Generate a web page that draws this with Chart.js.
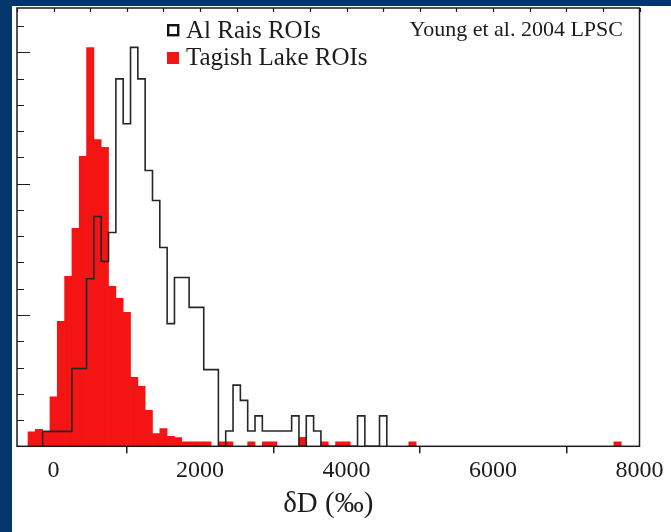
<!DOCTYPE html>
<html>
<head>
<meta charset="utf-8">
<script src="https://cdn.jsdelivr.net/npm/chart.js@4.4.1/dist/chart.umd.min.js"></script>
<style>
  html, body { margin: 0; padding: 0; background: #fff; }
  #wrap { position: relative; width: 671px; height: 532px; background: #fff; overflow: hidden; }
  .band-left { position: absolute; left: 0; top: 0; width: 12px; height: 532px; background: #04366b; }
  .band-top { position: absolute; left: 0; top: 0; width: 671px; height: 6px; background: #04366b; }
  canvas { position: absolute; left: 0; top: 0; }
</style>
</head>
<body>
<div id="wrap">
  <div class="band-left"></div>
  <div class="band-top"></div>
  <canvas id="c" width="671" height="532"></canvas>
</div>
<script>
// δD histograms, 100 ‰ bins labelled by their centre; heights are frequency (%)
const binWidth = 100;

const tagishBins = [-300, -200, -100, 0, 100, 200, 300, 400, 500, 600, 700, 800, 900, 1000,
  1100, 1200, 1300, 1400, 1500, 1600, 1700, 1800, 1900, 2000, 2100, 2300, 2400, 2700,
  2900, 3000, 3400, 3700, 3900, 4000, 4900, 7700];
const tagishFreq = [0.55, 0.65, 0.55, 1.88, 4.76, 6.47, 8.30, 11.04, 15.18, 11.68, 11.38, 6.09, 5.63, 5.10,
  2.63, 2.28, 1.37, 0.48, 0.67, 0.38, 0.33, 0.17, 0.17, 0.17, 0.17, 0.17, 0.17, 0.17,
  0.17, 0.17, 0.34, 0.17, 0.17, 0.17, 0.17, 0.17];

const alRaisBins = [-100, 0, 100, 200, 300, 400, 500, 600, 700, 800, 900, 1000, 1100, 1200,
  1300, 1400, 1500, 1600, 1700, 1800, 1900, 2000, 2100, 2200, 2300, 2400, 2500, 2600,
  2700, 2800, 2900, 3000, 3100, 3200, 3300, 3400, 3500, 3600, 3700, 3800, 3900, 4000,
  4100, 4200, 4300, 4400, 4500];
const alRaisFreq = [0.57, 0.57, 0.57, 0.57, 2.96, 2.96, 6.38, 8.75, 7.04, 8.14, 13.99, 12.28, 15.19, 13.99,
  10.50, 9.36, 7.57, 4.67, 6.43, 6.43, 5.29, 5.29, 2.92, 2.92, 0, 0.58, 2.33, 1.75,
  0.58, 1.16, 0.58, 0.58, 0.58, 0.58, 1.16, 0, 1.16, 0.58, 0, 0, 0, 0,
  0, 1.16, 0, 0, 1.16];

const xTicks = [0, 2000, 4000, 6000, 8000];
const xMinorStep = 500;
const yTicks = [0, 1, 2, 3, 4, 5, 6, 7, 8, 9, 10, 11, 12, 13, 14, 15, 16];
const yMajorStep = 5;

const seriesLabels = ['Al Rais ROIs', 'Tagish Lake ROIs'];
const credit = 'Young et al. 2004 LPSC';

const SERIF = '"Liberation Serif", "DejaVu Serif", serif';
const INK = '#1c1c1c';
const RED = '#f41414';

// outline of the Al Rais histogram: one point per bin left edge, closed at both ends
const alRaisOutline = [{ x: alRaisBins[0] - binWidth / 2, y: 0 }];
alRaisBins.forEach((b, i) => alRaisOutline.push({ x: b - binWidth / 2, y: alRaisFreq[i] }));
alRaisOutline.push({ x: alRaisBins[alRaisBins.length - 1] + binWidth / 2, y: 0 });

// plot frame, inward ticks on the left and top spines, legend and credit line
const framePlugin = {
  id: 'frame',
  afterDatasetsDraw(chart) {
    const { ctx, chartArea: { left, right, top, bottom }, scales: { x, y } } = chart;
    ctx.save();
    ctx.strokeStyle = INK;
    ctx.lineWidth = 1.5;
    ctx.strokeRect(left, top, right - left, bottom - top);

    ctx.lineWidth = 1.2;
    ctx.beginPath();
    yTicks.forEach(v => {
      const py = Math.round(y.getPixelForValue(v)) + 0.5;
      const len = v % yMajorStep === 0 ? 13 : 7;
      ctx.moveTo(left, py);
      ctx.lineTo(left + len, py);
    });
    for (let v = x.min; v <= x.max; v += xMinorStep) {
      const px = Math.round(x.getPixelForValue(v)) + 0.5;
      ctx.moveTo(px, top);
      ctx.lineTo(px, top + 4);
    }
    ctx.stroke();

    // legend
    const lx = 167, tx = 186;
    ctx.lineWidth = 2.4;
    ctx.strokeStyle = '#111';
    ctx.strokeRect(lx + 1.2, 25.2, 10, 10);
    ctx.fillStyle = RED;
    ctx.fillRect(lx, 52, 12, 12);

    ctx.fillStyle = INK;
    ctx.textBaseline = 'alphabetic';
    ctx.textAlign = 'left';
    ctx.font = '25px ' + SERIF;
    ctx.fillText(seriesLabels[0], tx, 38);
    ctx.fillText(seriesLabels[1], tx, 65);

    ctx.font = '22px ' + SERIF;
    ctx.textAlign = 'right';
    ctx.fillText(credit, 623, 36);
    ctx.restore();
  }
};

new Chart(document.getElementById('c'), {
  type: 'bar',
  data: {
    datasets: [
      {
        type: 'line',
        label: seriesLabels[0],
        data: alRaisOutline,
        stepped: 'before',
        borderColor: '#262626',
        borderWidth: 1.6,
        pointRadius: 0,
        fill: false,
        order: 1
      },
      {
        type: 'bar',
        label: seriesLabels[1],
        data: tagishBins.map((b, i) => ({ x: b, y: tagishFreq[i] })),
        backgroundColor: RED,
        borderWidth: 0,
        barPercentage: 1,
        categoryPercentage: 1,
        grouped: false,
        order: 2
      }
    ]
  },
  options: {
    responsive: false,
    animation: false,
    devicePixelRatio: 1,
    layout: { padding: { left: 17, top: 8, right: 31.5, bottom: 0 } },
    plugins: { legend: { display: false }, tooltip: { enabled: false } },
    scales: {
      x: {
        type: 'linear',
        min: -500,
        max: 8000,
        offset: false,
        afterBuildTicks: s => { s.ticks = xTicks.map(v => ({ value: v })); },
        afterFit: s => { s.height = 85.7; },
        grid: { drawOnChartArea: false, drawTicks: true, tickLength: 7, color: INK, lineWidth: 1.5 },
        border: { display: false },
        ticks: {
          color: INK,
          font: { family: SERIF, size: 24 },
          padding: 3,
          maxRotation: 0,
          autoSkip: false,
          callback: v => String(v)
        },
        title: {
          display: true,
          text: 'δD (‰)',
          color: INK,
          font: { family: SERIF, size: 29 },
          padding: { top: 0, bottom: 10 }
        }
      },
      y: {
        display: false,
        min: 0,
        max: 16.69
      }
    }
  },
  plugins: [framePlugin]
});
</script>
</body>
</html>
